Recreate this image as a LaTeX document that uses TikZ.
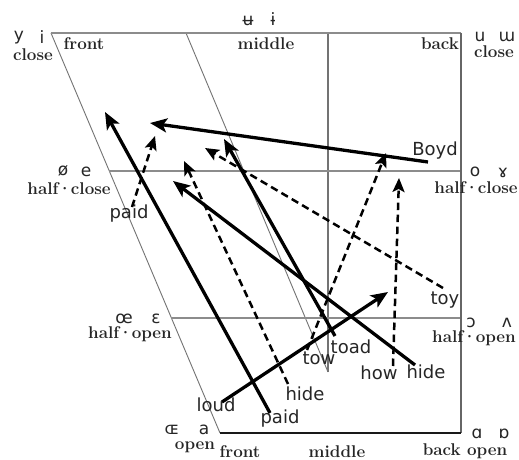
\documentclass[tikz,border=0pt]{standalone}
\usepackage{fontspec}
\newfontfamily\ipafont{DejaVu Sans}
\newfontfamily\wordfont{DejaVu Sans}
\usetikzlibrary{arrows.meta}
\newcommand{\hdot}{\kern-1.2pt·\kern-1.2pt}
\begin{document}
\begin{tikzpicture}[x=1pt,y=-1pt,
  grayline/.style={draw=black!45, line width=2.2pt},
  thinline/.style={draw=black!55, line width=0.9pt},
  solidarrow/.style={draw=black, line width=3.3pt, -{Stealth[length=17pt,width=14pt,inset=4pt]}},
  dasharrow/.style={draw=black, line width=2.5pt, dash pattern=on 7.5pt off 4.5pt, -{Stealth[length=14pt,width=12pt,inset=3pt]}},
  ipa/.style={font=\ipafont\fontsize{17}{17}\selectfont, inner sep=0pt, text=black!85},
  lab/.style={font=\fontsize{17}{17}\selectfont\bfseries, inner sep=0pt, text=black!85},
  word/.style={font=\wordfont\fontsize{18}{18}\selectfont, inner sep=0pt, text=black!85}
]
\useasboundingbox (0,0) rectangle (519,460);
\fill[white] (0,0) rectangle (519,460);
% frame corners
\coordinate (TL) at (51,33);
\coordinate (TM) at (186,33);
\coordinate (TV) at (328,33);
\coordinate (TR) at (461,33);
\coordinate (BL) at (220,433);
\coordinate (BR) at (461,433);
\coordinate (IM) at (328,372);
\coordinate (HCL) at (109,171);
\coordinate (HCR) at (461,171);
\coordinate (HOL) at (171,318);
\coordinate (HOR) at (461,318);
% frame
\draw[thinline] (TL) -- (BL);
\draw[thinline] (TM) -- (IM);
\draw[draw=black!55, line width=1.4pt] (TV) -- (IM);
\draw[grayline] (HCL) -- (HCR);
\draw[grayline] (HOL) -- (HOR);
\draw[grayline] (TL) -- (TR);
\draw[draw=black!60, line width=2pt] (TR) -- (BR);
\draw[draw=black!90, line width=2.6pt] (BL) -- (BR);
% corner labels
\node[ipa] (y1) at (19,38) {y};
\node[ipa] (i1) at (42,37) {i};
\node[lab] (close1) at (33,55) {close};
\node[lab] (front1) at (84,44) {front};
\node[ipa] (ubar) at (248,21) {ʉ};
\node[ipa] (ibar) at (273,19) {ɨ};
\node[lab] (middle1) at (266,44) {middle};
\node[lab] (back1) at (440,44) {back};
\node[ipa] (u1) at (480,37) {u};
\node[ipa] (m1) at (507,37) {ɯ};
\node[lab] (close2) at (494,52) {close};
\node[ipa] (oe1) at (63,171) {ø};
\node[ipa] (e1) at (86,172) {e};
\node[lab] (hc1) at (69,189) {half\hdot close};
\node[ipa] (o1) at (475,172) {o};
\node[ipa] (ram) at (503,173) {ɤ};
\node[lab] (hc2) at (476,188) {half\hdot close};
\node[ipa] (oel) at (124,319) {œ};
\node[ipa] (eps) at (156,319) {ɛ};
\node[lab] (ho1) at (130,334) {half\hdot open};
\node[ipa] (oo) at (471,323) {ɔ};
\node[ipa] (vv) at (507,323) {ʌ};
\node[lab] (ho2) at (474,338) {half\hdot open};
\node[ipa] (OE) at (172,430) {ɶ};
\node[ipa] (a1) at (204,430) {a};
\node[lab] (open1) at (195,447) {open};
\node[lab] (front2) at (240,452) {front};
\node[lab] (middle2) at (337,452) {middle};
\node[ipa] (aa) at (477,434) {ɑ};
\node[ipa] (ao) at (504,434) {ɒ};
\node[lab] (backopen) at (465,451) {back open};
% word labels
\node[word] (wBoyd) at (435,151) {Boyd};
\node[word] (wpaid1) at (129,214) {paid};
\node[word] (wtoy) at (445,300) {toy};
\node[word] (wtoad) at (351,347) {toad};
\node[word] (wtow) at (319,358) {tow};
\node[word] (whow) at (379,373) {how};
\node[word] (whide1) at (426,372) {hide};
\node[word] (whide2) at (305,394) {hide};
\node[word] (wpaid2) at (280,419) {paid};
\node[word] (wloud) at (216,405) {loud};
% arrow ends
\coordinate (s1) at (270,413); \coordinate (t1) at (105,112);
\coordinate (s2) at (132,207); \coordinate (t2) at (155,136);
\coordinate (s3) at (428,162); \coordinate (t3) at (150,123);
\coordinate (s4) at (443,288); \coordinate (t4) at (205,148);
\coordinate (s5) at (335,336); \coordinate (t5) at (224,139);
\coordinate (s6) at (415,365); \coordinate (t6) at (173,181);
\coordinate (s7) at (288,384); \coordinate (t7) at (184,161);
\coordinate (s8) at (307,350); \coordinate (t8) at (386,153);
\coordinate (s9) at (393,366); \coordinate (t9) at (399,178);
\coordinate (s10) at (222,402); \coordinate (t10) at (388,292);
% arrows
\draw[solidarrow] (s1) -- (t1);
\draw[dasharrow] (s2) -- (t2);
\draw[solidarrow] (s3) -- (t3);
\draw[dasharrow] (s4) -- (t4);
\draw[solidarrow] (s5) -- (t5);
\draw[solidarrow] (s6) -- (t6);
\draw[dasharrow] (s7) -- (t7);
\draw[dasharrow] (s8) -- (t8);
\draw[dasharrow] (s9) -- (t9);
\draw[solidarrow] (s10) -- (t10);
\end{tikzpicture}
\end{document}
